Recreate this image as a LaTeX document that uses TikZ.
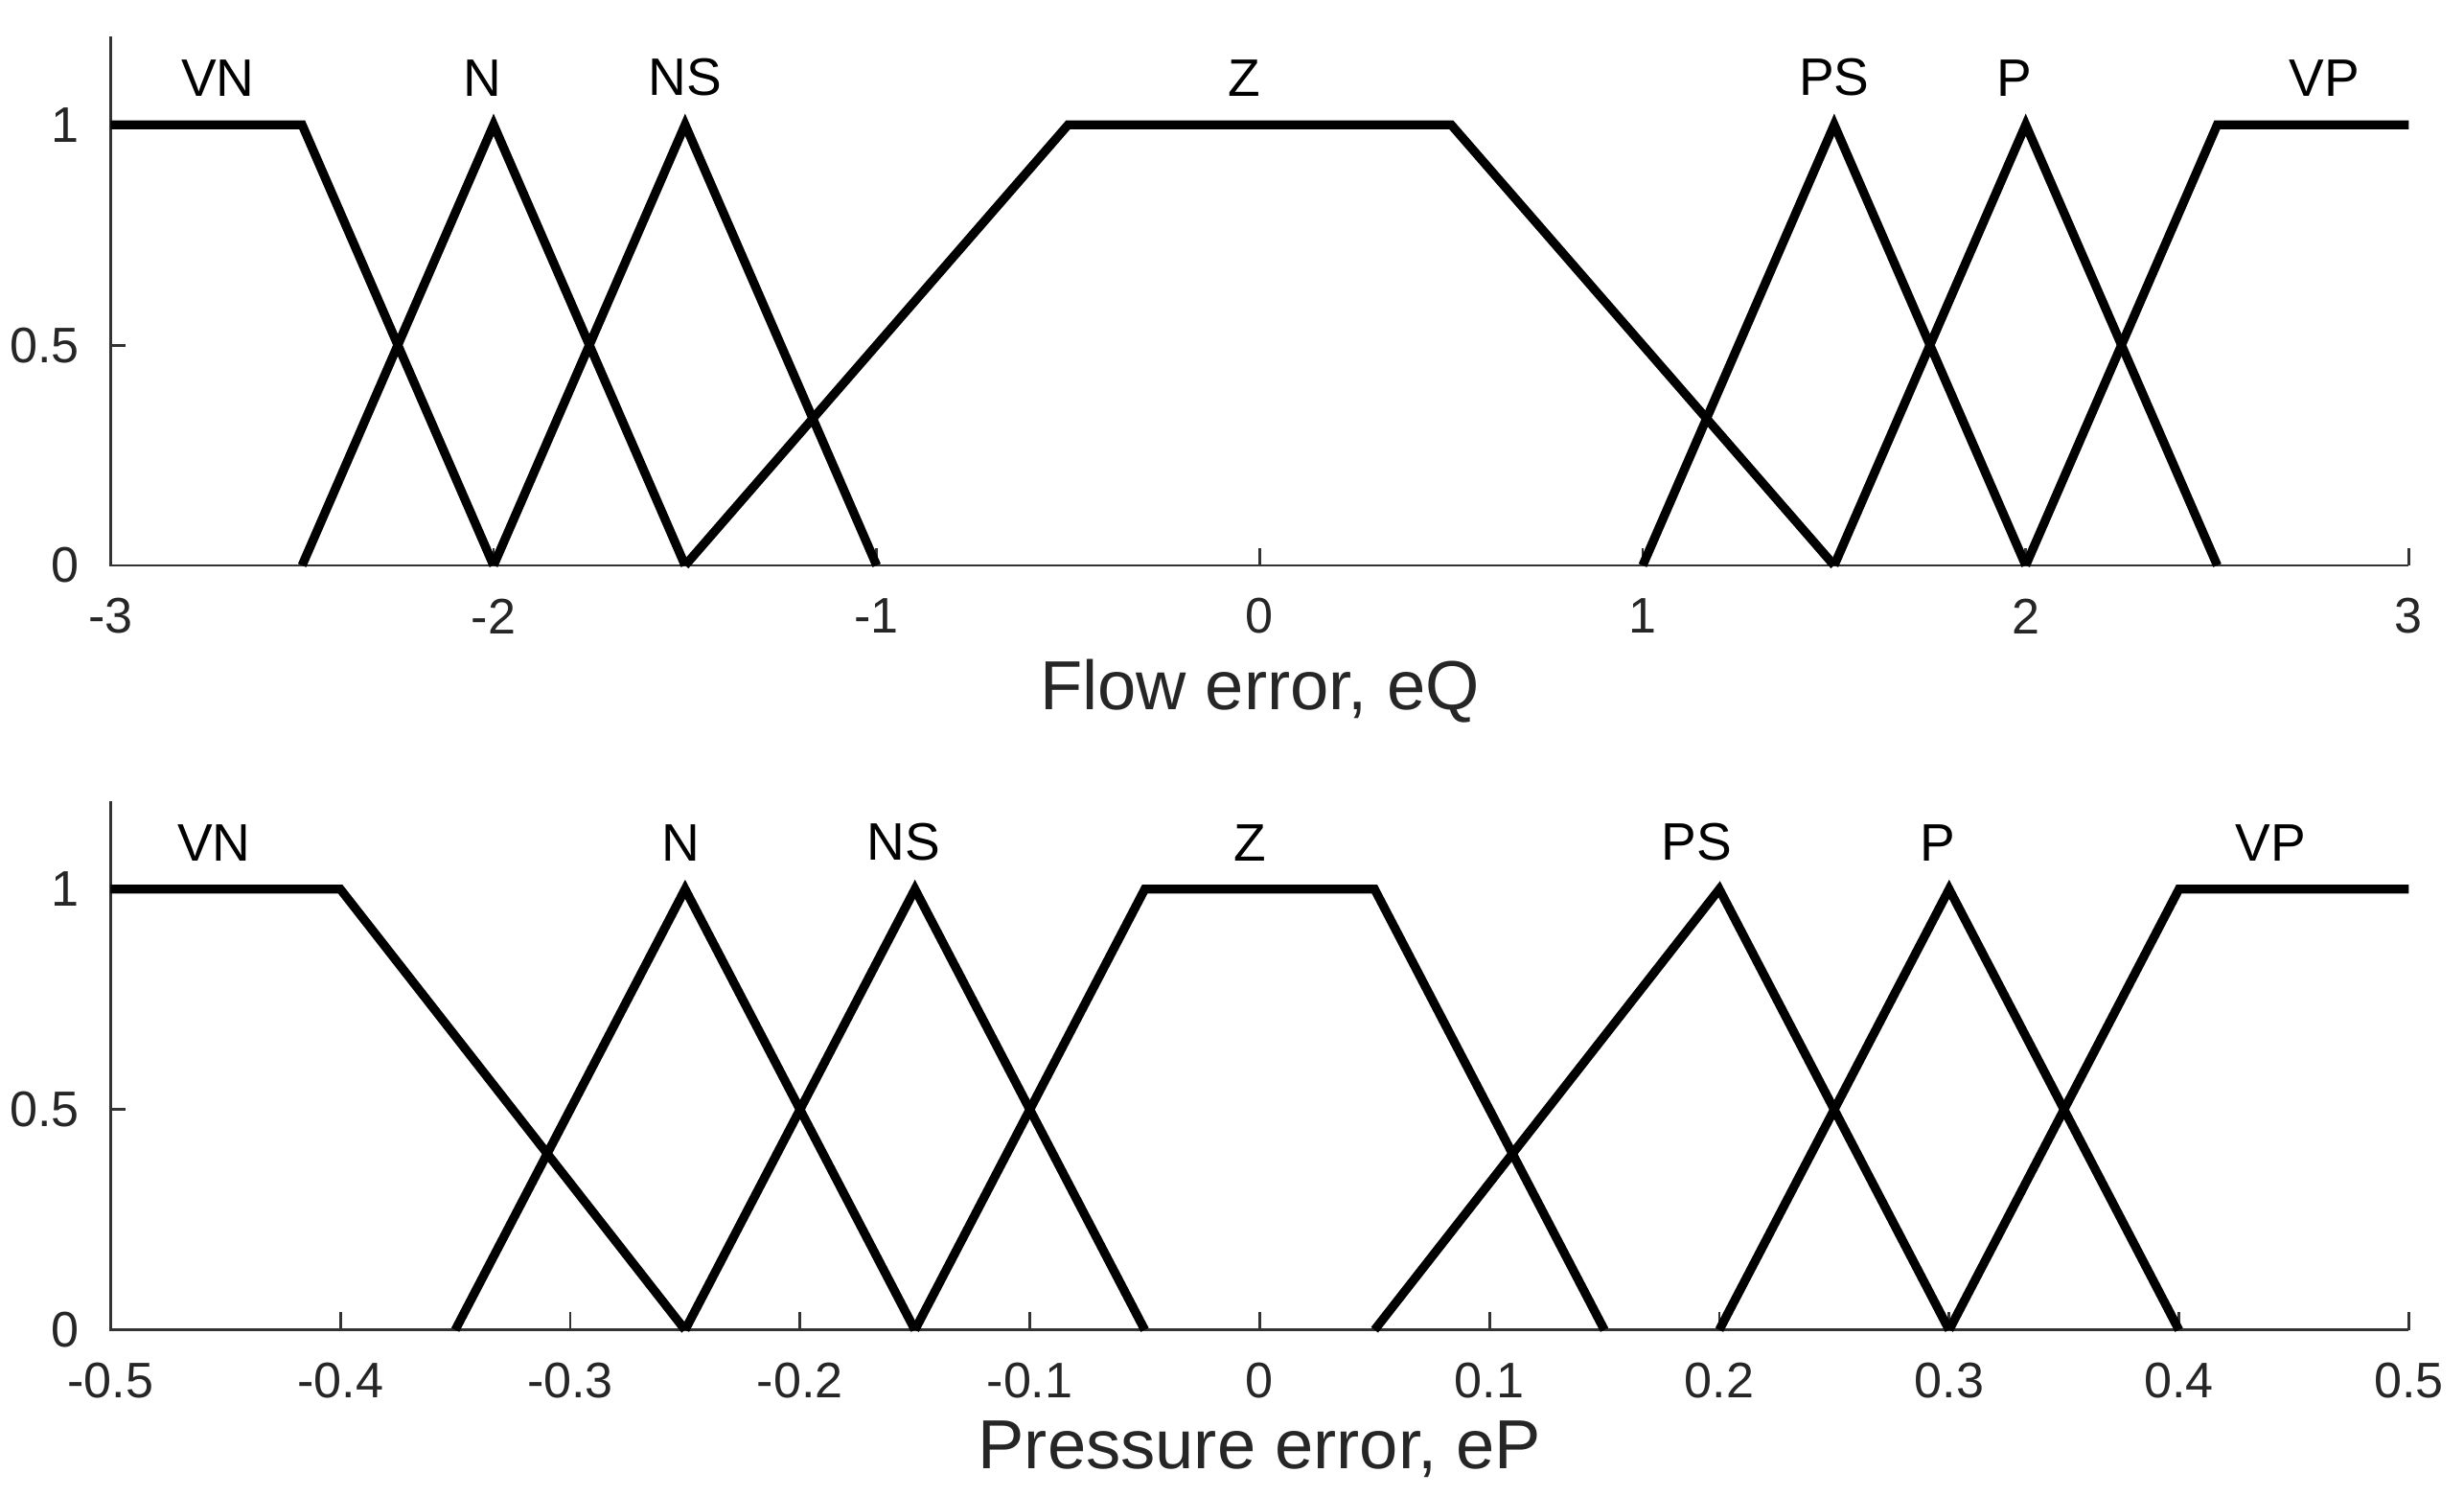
\documentclass[tikz,border=0pt]{standalone}
\usepackage{fontspec}
\setmainfont{Liberation Sans}
\tikzset{
  mf/.style={line width=1.6pt, line join=miter},
  ax/.style={draw=black!80, line width=0.5pt},
  tick/.style={font=\fontsize{9}{11}\selectfont, text=black!85},
  lab/.style={font=\fontsize{9.5}{11}\selectfont, anchor=south},
  axlabel/.style={font=\fontsize{12.5}{15}\selectfont, text=black!85}
}
\begin{document}
\begin{tikzpicture}
\useasboundingbox (0,0) rectangle (15.6,9.47);

%Flow error
\begin{scope}[shift={(7.975,5.89)}, x=2.425cm, y=2.79cm]
\draw[ax] (-3,1.2)--(-3,0)--(3,0);
\foreach \t in {-3,...,3} {
  \draw[ax] (\t,0)--(\t,0.04);
  \node[tick] (tq\t) at (\t,-0.115) {\t};
}
\foreach \v/\s in {0/0,0.5/0.5,1/1} {
  \draw[ax] (-3,\v)--(-2.96,\v);
  \node[tick, anchor=east] (lq\v) at (-3.03,\v) {\s};
}
\node[axlabel] (xq) at (0,-0.285) {Flow error, eQ};
\draw[mf] (-3,1)--(-2.5,1)--(-2,0);
\draw[mf] (-2.5,0)--(-2,1)--(-1.5,0);
\draw[mf] (-2,0)--(-1.5,1)--(-1,0);
\draw[mf] (-1.5,0)--(-0.5,1)--(0.5,1)--(1.5,0);
\draw[mf] (1,0)--(1.5,1)--(2,0);
\draw[mf] (1.5,0)--(2,1)--(2.5,0);
\draw[mf] (2,0)--(2.5,1)--(3,1);
\foreach \x/\n in {-2.72/VN,-2.03/N,-1.5/NS,-0.04/Z,1.5/PS,1.97/P,2.78/VP}
  \node[lab] (mq\n) at (\x,1.02) {\n};
\end{scope}

%Pressure error
\begin{scope}[shift={(7.975,1.05)}, x=14.55cm, y=2.79cm]
\draw[ax] (-0.5,1.2)--(-0.5,0)--(0.5,0);
\foreach \t/\s in {-0.5/-0.5,-0.4/-0.4,-0.3/-0.3,-0.2/-0.2,-0.1/-0.1,0/0,0.1/0.1,0.2/0.2,0.3/0.3,0.4/0.4,0.5/0.5} {
  \draw[ax] (\t,0)--(\t,0.04);
  \node[tick] (tp\s) at (\t,-0.115) {\s};
}
\foreach \v/\s in {0/0,0.5/0.5,1/1} {
  \draw[ax] (-0.5,\v)--(-0.4933,\v);
  \node[tick, anchor=east] (lp\v) at (-0.505,\v) {\s};
}
\node[axlabel] (xp) at (0,-0.27) {Pressure error, eP};
\draw[mf] (-0.5,1)--(-0.4,1)--(-0.25,0);
\draw[mf] (-0.35,0)--(-0.25,1)--(-0.15,0);
\draw[mf] (-0.25,0)--(-0.15,1)--(-0.05,0);
\draw[mf] (-0.15,0)--(-0.05,1)--(0.05,1)--(0.15,0);
\draw[mf] (0.05,0)--(0.2,1)--(0.3,0);
\draw[mf] (0.2,0)--(0.3,1)--(0.4,0);
\draw[mf] (0.3,0)--(0.4,1)--(0.5,1);
\foreach \x/\n in {-0.455/VN,-0.252/N,-0.155/NS,-0.004/Z,0.19/PS,0.295/P,0.44/VP}
  \node[lab] (mp\n) at (\x,1.02) {\n};
\end{scope}
\end{tikzpicture}
\end{document}
